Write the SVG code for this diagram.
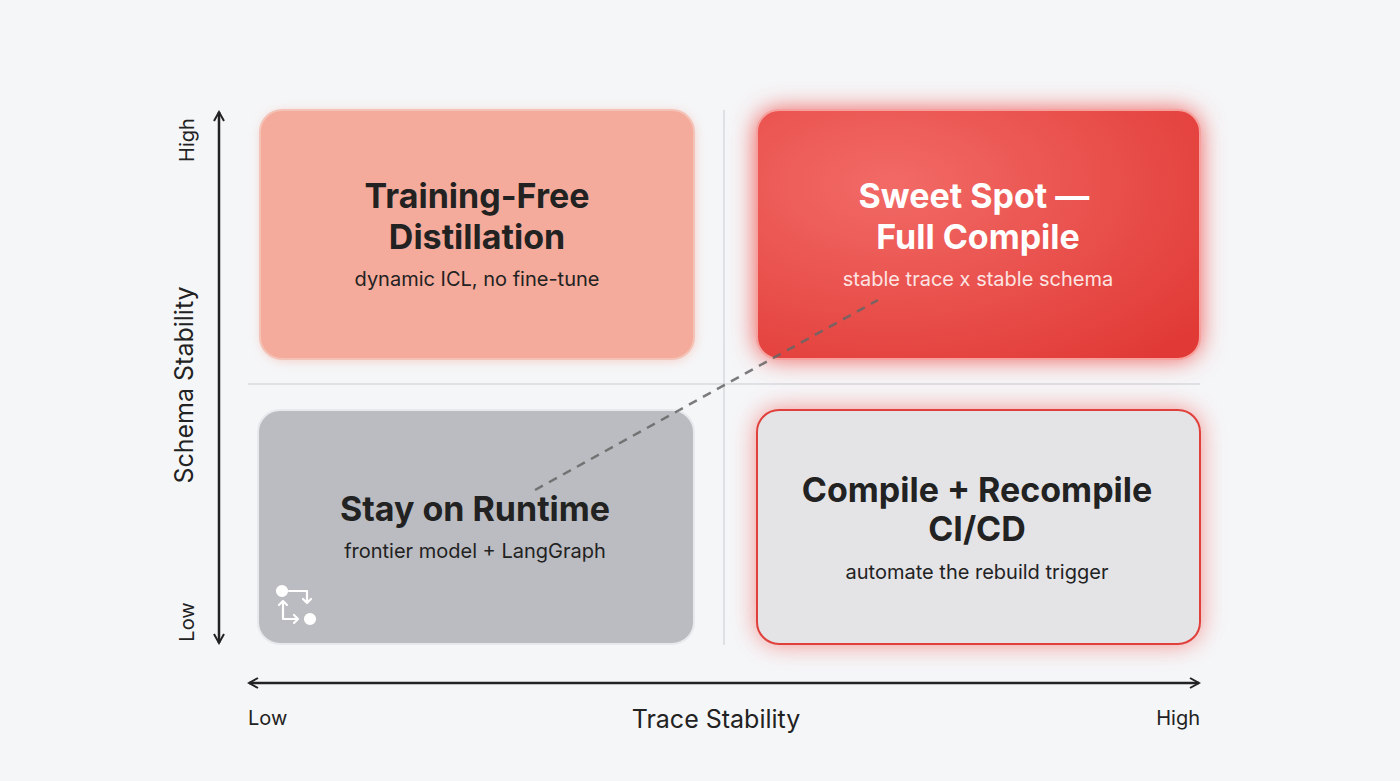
<svg xmlns="http://www.w3.org/2000/svg" width="1400" height="781" viewBox="0 0 1400 781">
<defs>
<style>
.t{font-family:Inter,"Liberation Sans",sans-serif;font-weight:700;font-size:34px;fill:#222;text-anchor:middle}
.s{font-family:Inter,"Liberation Sans",sans-serif;font-size:20px;fill:#222;text-anchor:middle}
.ax{font-family:Inter,"Liberation Sans",sans-serif;font-size:20px;fill:#222}
.axl{font-family:Inter,"Liberation Sans",sans-serif;font-size:25px;fill:#222}
</style>
<filter id="glow" x="-20%" y="-20%" width="140%" height="140%"><feGaussianBlur stdDeviation="12"/></filter>
<filter id="sh" x="-20%" y="-20%" width="140%" height="140%"><feGaussianBlur stdDeviation="6"/></filter>
<radialGradient id="gr" cx="0.3" cy="0.3" r="0.9"><stop offset="0" stop-color="#f26a66"/><stop offset="1" stop-color="#e13a36"/></radialGradient>
<marker id="ah" viewBox="0 0 12 12" refX="10" refY="6" markerWidth="12" markerHeight="12" markerUnits="userSpaceOnUse" orient="auto-start-reverse"><path d="M1 1L10 6L1 11" fill="none" stroke="#222" stroke-width="2"/></marker>
</defs>
<rect width="1400" height="781" fill="#f5f6f8"/>
<g id="grid" stroke="#c9cbd0" stroke-width="1">
<line x1="724" y1="110" x2="724" y2="645"/>
<line x1="248" y1="384" x2="1200" y2="384"/>
</g>
<g id="q1">
<rect x="262" y="112" width="432" height="248" rx="22" fill="#f5a897" filter="url(#sh)" opacity="0.6"/>
<rect x="260" y="110" width="434" height="249" rx="22" fill="#f5ab9b" stroke="#f4c3b8" stroke-width="2"/>
<text class="t" x="477" y="208">Training-Free</text>
<text class="t" x="477" y="249">Distillation</text>
<text class="s" x="477" y="286">dynamic ICL, no fine-tune</text>
</g>
<g id="q2">
<rect x="756" y="110" width="444" height="249" rx="22" fill="#f05a55" filter="url(#glow)"/>
<rect x="757" y="110" width="443" height="249" rx="22" fill="url(#gr)" stroke="#f6a19d" stroke-width="2"/>
<text class="t" x="974" y="208" style="fill:#fff">Sweet Spot —</text>
<text class="t" x="978" y="249" style="fill:#fff">Full Compile</text>
<text class="s" x="978" y="286" style="fill:#fde4e2">stable trace x stable schema</text>
</g>
<g id="q3">
<rect x="258" y="410" width="436" height="234" rx="22" fill="#bbbcc1" stroke="#e8e9ec" stroke-width="2"/>
<text class="t" x="475" y="521">Stay on Runtime</text>
<text class="s" x="475" y="558">frontier model + LangGraph</text>
<g fill="none" stroke="#fff" stroke-width="2.2" stroke-linecap="round" stroke-linejoin="round">
<circle cx="282" cy="591" r="5" fill="#fff"/>
<circle cx="310" cy="619" r="5" fill="#fff"/>
<path d="M289 591H307V603M303 599L307 603L311 599"/>
<path d="M283 601V619H298M294 615L298 619L294 623M279 605L283 601L287 605"/>
</g>
</g>
<g id="q4">
<rect x="757" y="410" width="443" height="234" rx="22" fill="#f36560" filter="url(#glow)" opacity="0.75"/>
<rect x="757" y="410" width="443" height="234" rx="22" fill="#e4e4e7" stroke="#e0403c" stroke-width="2"/>
<text class="t" x="977" y="502">Compile + Recompile</text>
<text class="t" x="977" y="541">CI/CD</text>
<text class="s" x="977" y="579">automate the rebuild trigger</text>
</g>
<g id="connectors">
<line x1="535" y1="490" x2="878" y2="300" stroke="#666" stroke-width="2.5" stroke-dasharray="9,7" opacity="0.85"/>
<line x1="219" y1="112" x2="219" y2="643" stroke="#222" stroke-width="2.5" marker-start="url(#ah)" marker-end="url(#ah)"/>
<line x1="249" y1="683" x2="1199" y2="683" stroke="#222" stroke-width="2.5" marker-start="url(#ah)" marker-end="url(#ah)"/>
</g>
<g id="labels">
<text class="ax" transform="translate(194,140) rotate(-90)" text-anchor="middle">High</text>
<text class="ax" transform="translate(194,622) rotate(-90)" text-anchor="middle">Low</text>
<text class="axl" transform="translate(193,385) rotate(-90)" text-anchor="middle">Schema Stability</text>
<text class="ax" x="248" y="725">Low</text>
<text class="ax" x="1200" y="725" text-anchor="end">High</text>
<text class="axl" x="716" y="728" text-anchor="middle">Trace Stability</text>
</g>
</svg>
